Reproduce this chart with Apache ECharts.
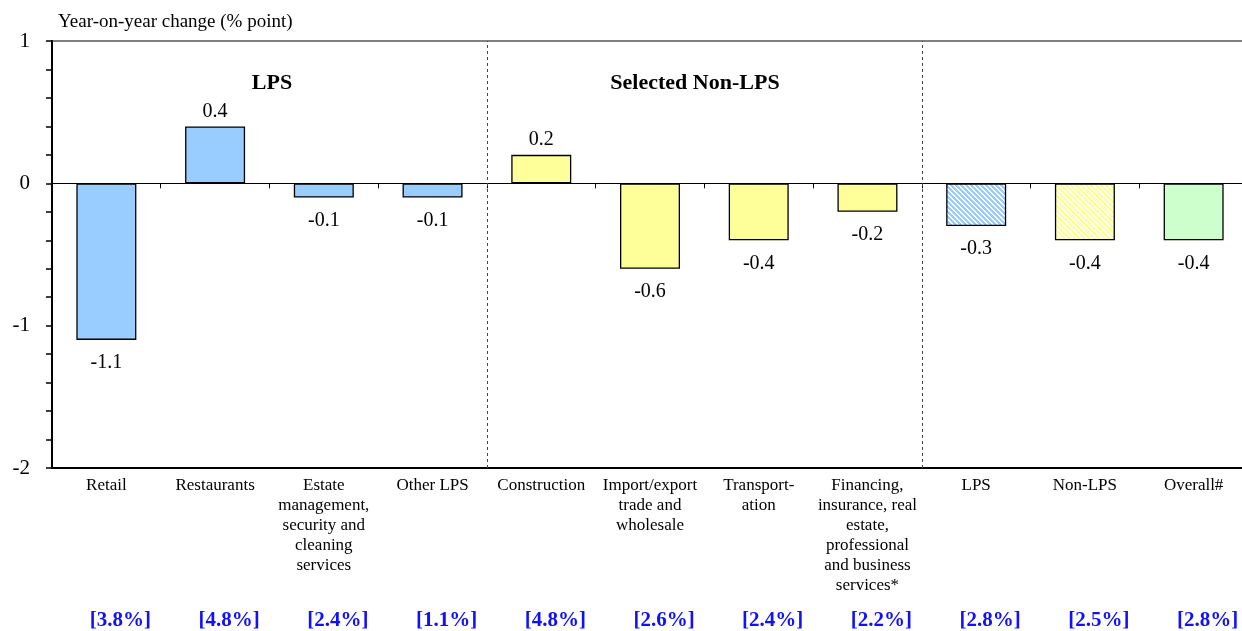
<!DOCTYPE html>
<html>
<head>
<meta charset="utf-8">
<title>Year-on-year change by sector</title>
<script src="https://cdn.jsdelivr.net/npm/echarts@6/dist/echarts.min.js"></script>
<style>
  html, body { margin: 0; padding: 0; background: #ffffff; overflow: hidden; }
  #chart { width: 1248px; height: 631px; }
</style>
</head>
<body>
<div id="chart"></div>
<script>
// Sector categories (line breaks as shown under the axis)
const categories = [
  'Retail',
  'Restaurants',
  'Estate\nmanagement,\nsecurity and\ncleaning\nservices',
  'Other LPS',
  'Construction',
  'Import/export\ntrade and\nwholesale',
  'Transport-\nation',
  'Financing,\ninsurance, real\nestate,\nprofessional\nand business\nservices*',
  'LPS',
  'Non-LPS',
  'Overall#'
];
// Year-on-year change, % point
const changes = [-1.1, 0.4, -0.1, -0.1, 0.2, -0.6, -0.4, -0.2, -0.3, -0.4, -0.4];
// Group each sector belongs to
const groups = ['lps', 'lps', 'lps', 'lps', 'non', 'non', 'non', 'non', 'lpsAll', 'nonAll', 'overall'];
// Bracketed rates printed under each sector
const rates = ['[3.8%]', '[4.8%]', '[2.4%]', '[1.1%]', '[4.8%]', '[2.6%]', '[2.4%]', '[2.2%]', '[2.8%]', '[2.5%]', '[2.8%]'];
// Section headings
const sectionTitles = ['LPS', 'Selected Non-LPS'];
// Section boundaries, counted in categories from the left
const sectionBreaks = [4, 8];

const SERIF = "'Liberation Serif', 'Times New Roman', serif";
const BLUE = '#99CCFF';
const YELLOW = '#FFFF99';
const GREEN = '#CCFFCC';

// Diagonal white-striped fill
function stripes(base) {
  const n = 5;
  const c = document.createElement('canvas');
  c.width = n; c.height = n;
  const ctx = c.getContext('2d');
  const img = ctx.createImageData(n, n);
  const r = parseInt(base.slice(1, 3), 16), g = parseInt(base.slice(3, 5), 16), b = parseInt(base.slice(5, 7), 16);
  for (let y = 0; y < n; y++) {
    for (let x = 0; x < n; x++) {
      const on = (((x - y) % n) + n) % n < 3;
      const i = (y * n + x) * 4;
      img.data[i] = on ? r : 255;
      img.data[i + 1] = on ? g : 255;
      img.data[i + 2] = on ? b : 255;
      img.data[i + 3] = 255;
    }
  }
  ctx.putImageData(img, 0, 0);
  return { image: c, repeat: 'repeat' };
}

const fills = {
  lps: BLUE,
  non: YELLOW,
  lpsAll: stripes(BLUE),
  nonAll: stripes(YELLOW),
  overall: GREEN
};

const barData = changes.map((v, i) => ({
  value: v,
  itemStyle: { color: fills[groups[i]] },
  label: { position: v >= 0 ? 'top' : 'bottom', distance: v >= 0 ? 5 : 13 }
}));

const chart = echarts.init(document.getElementById('chart'), null, { renderer: 'canvas' });

chart.setOption({
  animation: false,
  backgroundColor: '#ffffff',
  textStyle: { fontFamily: SERIF },
  title: {
    text: 'Year-on-year change (% point)',
    left: 58, top: 13, padding: 0,
    textStyle: { fontFamily: SERIF, fontSize: 19, fontWeight: 'normal', color: '#000' }
  },
  grid: {
    left: 52, right: 0, top: 41, bottom: 163,
    show: true, borderColor: '#000', borderWidth: 1, backgroundColor: 'transparent'
  },
  xAxis: [
    {
      // zero line with category boundary ticks
      type: 'category', data: categories, position: 'bottom',
      axisLine: { onZero: true, lineStyle: { color: '#000', width: 1 } },
      axisTick: { show: true, length: 5, lineStyle: { color: '#000' } },
      axisLabel: { show: false },
      splitLine: { show: false }
    },
    {
      // bottom axis carrying the sector names
      type: 'category', data: categories, position: 'bottom',
      axisLine: { onZero: false, lineStyle: { color: '#000', width: 2 } },
      axisTick: { show: false },
      axisLabel: {
        interval: 0, margin: 8, fontFamily: SERIF, fontSize: 17, lineHeight: 20,
        color: '#000', align: 'center', verticalAlign: 'top'
      },
      splitLine: { show: false }
    },
    {
      // bracketed rates row
      type: 'category', data: rates, position: 'bottom', offset: 134,
      axisLine: { show: false, onZero: false },
      axisTick: { show: false },
      axisLabel: {
        interval: 0, margin: 8, fontFamily: SERIF, fontSize: 21, fontWeight: 'bold',
        color: '#1010FF', verticalAlign: 'top', padding: [0, 0, 0, 28]
      },
      splitLine: { show: false }
    },
    {
      // helper axis for section separators
      type: 'value', min: 0, max: categories.length, show: false,
      axisLine: { onZero: false }, splitLine: { show: false }
    }
  ],
  yAxis: {
    type: 'value', min: -2, max: 1, interval: 0.2,
    axisLine: { show: true, onZero: false, lineStyle: { color: '#000', width: 2 } },
    axisTick: { show: true, length: 6, lineStyle: { color: '#000', width: 1.5 } },
    splitLine: { show: false },
    axisLabel: {
      margin: 22, fontFamily: SERIF, fontSize: 21, color: '#000',
      formatter: v => Math.abs(v - Math.round(v)) < 1e-6 ? String(Math.round(v)) : ''
    }
  },
  graphic: [
    {
      type: 'text', x: 272, y: 83,
      style: { text: sectionTitles[0], font: 'bold 22px ' + SERIF, fill: '#000', align: 'center', verticalAlign: 'middle' }
    },
    {
      type: 'text', x: 695, y: 83,
      style: { text: sectionTitles[1], font: 'bold 22px ' + SERIF, fill: '#000', align: 'center', verticalAlign: 'middle' }
    }
  ],
  series: [
    {
      type: 'bar', xAxisIndex: 0, yAxisIndex: 0,
      data: barData, barWidth: 60,
      itemStyle: { borderColor: '#000', borderWidth: 1.3 },
      label: {
        show: true, fontFamily: SERIF, fontSize: 20, color: '#000',
        formatter: p => p.value.toFixed(1)
      },
      z: 3
    },
    {
      type: 'line', xAxisIndex: 3, yAxisIndex: 0,
      data: [], showSymbol: false, silent: true,
      markLine: {
        silent: true, symbol: ['none', 'none'],
        label: { show: false },
        lineStyle: { color: '#444', width: 1, type: [3, 3] },
        data: sectionBreaks.map(x => ({ xAxis: x }))
      }
    }
  ]
});
</script>
</body>
</html>
